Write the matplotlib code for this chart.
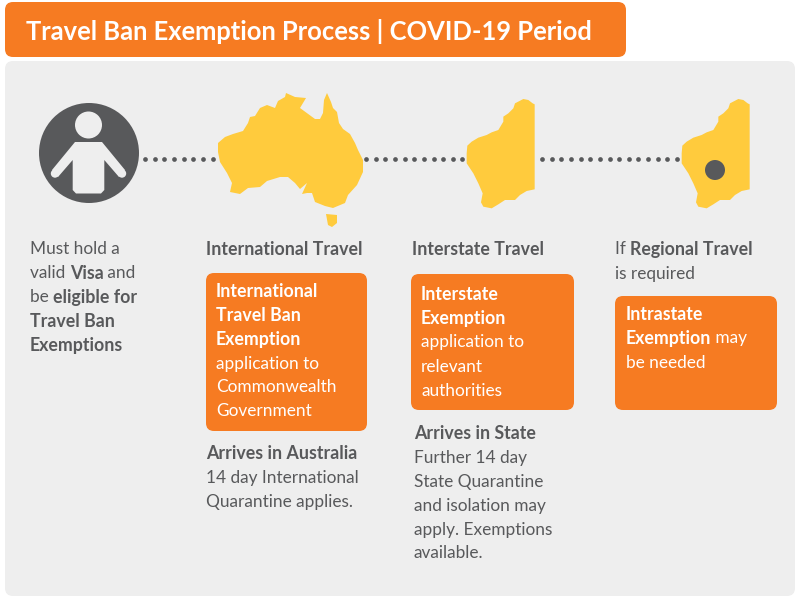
### TRAVEL BAN EXEMPTION INFOGRAPHIC ###
import numpy as np
import matplotlib
matplotlib.use("Agg")
import matplotlib.pyplot as plt
from matplotlib.patches import FancyBboxPatch, Circle, Polygon

plt.rcParams['font.family'] = ['Lato', 'DejaVu Sans']

ORANGE = '#F67B22'
YELLOW = '#FFCB3D'
DARK = '#58595B'
PANEL = '#EEEEEE'

title = "Travel Ban Exemption Process | COVID-19 Period"

# outlines (pixels)
australia = [(218,143),(225,137),(233,134),(243,131),(248,123),(250,117),(255,116),(260,108),(267,105),
             (275,108),(278,101),(285,97),(286,93),(295,97),(306,98),(300,108),(315,119),(320,119),(323,113),
             (324,100),(327,93),(331,102),(333,108),(337,112),(339,123),(343,129),(350,134),(355,143),(358,150),
             (363,160),(363,172),(357,185),(348,195),(345,203),(333,208),(325,206),(315,202),(312,193),(307,193),
             (302,194),(307,183),(300,189),(295,183),(288,177),(280,177),(267,181),(260,187),(248,188),(240,194),
             (230,192),(232,183),(227,173),(220,162),(218,152)]
tasmania = [(326,214),(337,215),(337,223),(332,227),(328,225)]
west_aus = [(52,182),(65,170),(85,158),(110,150),(125,142),(145,135),(160,110),(160,95),(175,85),(190,70),(195,55),
            (220,42),(235,45),(248,55),(254,58),(254,313),(230,318),(210,330),(195,345),(165,345),(145,358),(125,370),
            (100,365),(93,352),(98,325),(85,295),(70,265),(50,235),(50,205)]
person = [(75,142),(102,142),(125,170),(119,177),(104.3,160),(104.3,190),(101,193.5),(76,193.5),(72.7,190),
          (72.7,160),(58,177),(52,170)]

# each line is a list of (text, bold) runs
col1_text = [[("Must hold a", False)],
             [("valid ", False), ("Visa", True), (" and", False)],
             [("be ", False), ("eligible for", True)],
             [("Travel Ban", True)],
             [("Exemptions", True)]]
col2_head = [[("International Travel", True)]]
col2_box = [[("International", True)], [("Travel Ban", True)], [("Exemption", True)],
            [("application to", False)], [("Commonwealth", False)], [("Government", False)]]
col2_foot = [[("Arrives in Australia", True)], [("14 day International", False)], [("Quarantine applies.", False)]]
col3_head = [[("Interstate Travel", True)]]
col3_box = [[("Interstate", True)], [("Exemption", True)], [("application to", False)],
            [("relevant", False)], [("authorities", False)]]
col3_foot = [[("Arrives in State", True)], [("Further 14 day", False)], [("State Quarantine", False)],
             [("and isolation may", False)], [("apply. Exemptions", False)], [("available.", False)]]
col4_head = [[("If ", False), ("Regional Travel", True)], [("is required", False)]]
col4_box = [[("Intrastate", True)], [("Exemption", True), (" may", False)], [("be needed", False)]]

fig = plt.figure(figsize=(8, 6), dpi=100)
ax = fig.add_axes([0, 0, 1, 1])
ax.set_xlim(0, 800)
ax.set_ylim(600, 0)
ax.axis('off')

# rounded rectangle in pixel coords
def round_box(x0, y0, x1, y1, color, r=8):
    ax.add_patch(FancyBboxPatch((x0 + r, y0 + r), x1 - x0 - 2 * r, y1 - y0 - 2 * r,
                                boxstyle="round,pad=%d,rounding_size=%d" % (r, r),
                                fc=color, ec='none', lw=0))

# width of a run, the bars keep leading and trailing spaces in the measure
def run_width(txt, size, weight):
    renderer = fig.canvas.get_renderer()
    probe = ax.text(0, 0, "|" + txt + "|", fontsize=size, fontweight=weight)
    bars = ax.text(0, 0, "||", fontsize=size, fontweight=weight)
    w = probe.get_window_extent(renderer).width - bars.get_window_extent(renderer).width
    probe.remove()
    bars.remove()
    return w

# write lines of mixed weight text, one run after the other
def write_lines(lines, x, y, color=DARK, step=24):
    for i, line in enumerate(lines):
        cur = x
        for txt, bold in line:
            size = 12.8 if bold else 12.4
            weight = 'bold' if bold else 'normal'
            ax.text(cur, y + i * step, txt, color=color, fontsize=size, va='center_baseline', ha='left',
                    fontweight=weight)
            cur += run_width(txt, size, weight)

round_box(5, 61, 795, 596, PANEL)
round_box(5, 2, 626, 57, ORANGE)
ax.text(26, 29, title, color='white', fontsize=18.4, fontweight='bold', va='center_baseline', ha='left')

# dotted connectors
for start, stop in [(145, 222), (366, 465), (542, 680)]:
    xs = np.arange(start, stop, 9.65)
    ax.plot(xs, np.full(len(xs), 159), 'o', color=DARK, ms=3.4, mew=0)

# person icon
ax.add_patch(Circle((89, 153), 50, fc=DARK, ec='none'))
ax.add_patch(Circle((88.5, 125), 13.5, fc=PANEL, ec='none'))
ax.add_patch(Polygon(person, fc=PANEL, ec='none'))
ax.add_patch(Circle((55, 173.5), 4.2, fc=PANEL, ec='none'))
ax.add_patch(Circle((122, 173.5), 4.2, fc=PANEL, ec='none'))

# maps
ax.add_patch(Polygon(australia, fc=YELLOW, ec='none', zorder=3))
ax.add_patch(Polygon(tasmania, fc=YELLOW, ec='none', zorder=3))
ax.add_patch(Polygon([(450 + x / 3, 85 + y / 3) for x, y in west_aus], fc=YELLOW, ec='none', zorder=3))
ax.add_patch(Polygon([(665 + x / 3, 85 + y / 3) for x, y in west_aus], fc=YELLOW, ec='none', zorder=3))
ax.add_patch(Circle((715, 170), 10, fc=DARK, ec='none', zorder=4))

# orange boxes
round_box(206, 273, 367, 431, ORANGE)
round_box(411, 274, 574, 410, ORANGE)
round_box(615, 296, 777, 410, ORANGE)

# text columns
write_lines(col1_text, 30, 248)
write_lines(col2_head, 206, 248)
write_lines(col2_box, 216, 290, color='white')
write_lines(col2_foot, 206, 452)
write_lines(col3_head, 412, 248)
write_lines(col3_box, 421, 293, color='white')
write_lines(col3_foot, 414, 432)
write_lines(col4_head, 615, 248)
write_lines(col4_box, 626, 313, color='white')

fig.savefig("out.png", dpi=100)
